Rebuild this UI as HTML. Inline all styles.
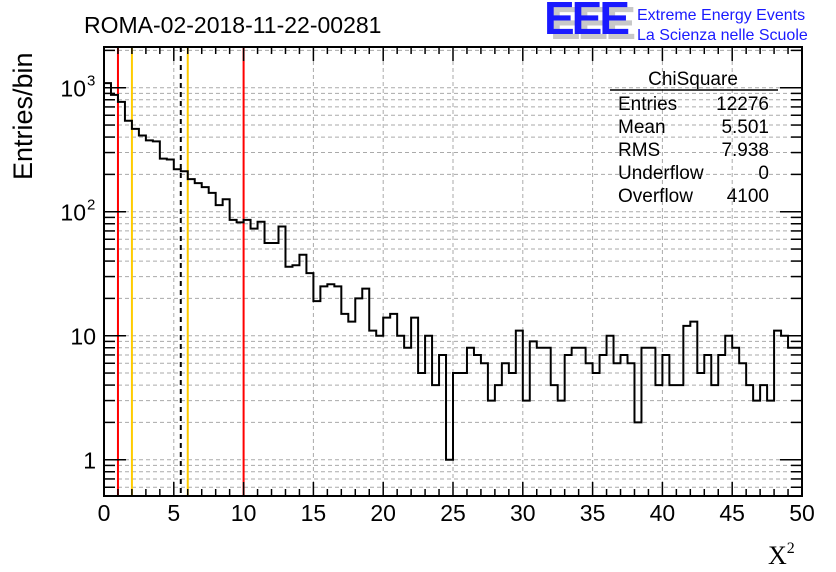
<!DOCTYPE html>
<html><head><meta charset="utf-8"><style>
body{margin:0;background:#fff}
svg{display:block;font-family:"Liberation Sans",sans-serif}
</style></head><body>
<svg id="c" width="836" height="572" viewBox="0 0 836 572">
<rect width="836" height="572" fill="#fff"/>
<text x="84" y="33" font-size="23">ROMA-02-2018-11-22-00281</text>
<g>
<text x="550" y="39" font-size="46" font-weight="bold" fill="#c8c8c8" letter-spacing="-3">EEE</text>
<text x="544" y="34" font-size="46" font-weight="bold" fill="#1a1aff" letter-spacing="-3">EEE</text>
<text x="637" y="20" font-size="16" fill="#1a1aff">Extreme Energy Events</text>
<text x="637" y="40" font-size="16" fill="#1a1aff">La Scienza nelle Scuole</text>
</g>
<g id="grid"></g>
<g id="marks"></g>
<g id="axes"></g>
<g font-size="19">
<text x="693" y="85" text-anchor="middle">ChiSquare</text>
<line x1="610" y1="90" x2="778" y2="90" stroke="#000" stroke-width="1.5"/>
<text x="618" y="110">Entries</text><text x="769" y="110" text-anchor="end">12276</text>
<text x="618" y="133">Mean</text><text x="769" y="133" text-anchor="end">5.501</text>
<text x="618" y="156">RMS</text><text x="769" y="156" text-anchor="end">7.938</text>
<text x="618" y="179">Underflow</text><text x="769" y="179" text-anchor="end">0</text>
<text x="618" y="202">Overflow</text><text x="769" y="202" text-anchor="end">4100</text>
</g>
<text transform="translate(32,180) rotate(-90)" font-size="27">Entries/bin</text>
<text x="768" y="564" font-size="26" font-family="Liberation Serif,serif">X<tspan font-size="16" dy="-11">2</tspan></text>
</svg>
<script>
const counts=[1090,875,769,542,466,412,376,369,268,264,220,212,183,170,158,142,113,126,86,82,86,73,83,56,56,76,36,37,45,32,19,25,26,25,15,13,20,24,11,10,14,15,10,8,14,5,10,4,7,1,5,5,8,7,6,3,4,6,5,11,3,9,8,8,4,3,7,8,8,6,5,7,10,6,7,6,2,8,8,4,7,4,4,12,13,5,7,4,7,10,8,6,4,3,4,3,11,10,8,8];
const binWidth=0.5;
const xTicks=[0,5,10,15,20,25,30,35,40,45,50];
const yTickVals=[1,10,100,1000];
const yTickBase=["1","10","10","10"];
const yTickExp=["","","2","3"];
const redLines=[1,10];
const yellowLines=[2,6];
const meanLine=[5.5];
const X0=104,X1=802,Y0=47,Y1=496;
const xMin=0,xMax=50,yMin=Math.log10(0.51),yMax=Math.log10(2130);
const sx=v=>X0+(v-xMin)/(xMax-xMin)*(X1-X0);
const sy=v=>Y1-(Math.log10(v)-yMin)/(yMax-yMin)*(Y1-Y0);
const NS="http://www.w3.org/2000/svg";
function mk(tag,parent,at){const e=document.createElementNS(NS,tag);for(const k in at)e.setAttribute(k,at[k]);(typeof parent==='string'?document.getElementById(parent):parent).appendChild(e);return e;}
for(const t of xTicks){if(t===0||t===50)continue;
const g=mk('line','grid',{x1:sx(t),x2:sx(t),y1:Y0,y2:Y1,stroke:'#aaa','stroke-dasharray':'4,3','stroke-width':1});

}
const minorY=[];for(let d=0.1;d<=1000;d*=10)for(let m=1;m<10;m++){const v=m*d;if(v>=0.51&&v<=2130)minorY.push(v);}
for(const v of minorY){const g=mk('line','grid',{x1:X0,x2:X1,y1:sy(v),y2:sy(v),stroke:'#aaa','stroke-dasharray':'4,3','stroke-width':1});

}
for(const v of redLines){const l=mk('line','marks',{x1:sx(v),x2:sx(v),y1:Y0,y2:Y1,stroke:'#f00','stroke-width':2});

}
for(const v of yellowLines){const l=mk('line','marks',{x1:sx(v),x2:sx(v),y1:Y0,y2:Y1,stroke:'#fc0','stroke-width':2});

}
for(const v of meanLine){const l=mk('line','marks',{x1:sx(v),x2:sx(v),y1:Y0,y2:Y1,stroke:'#000','stroke-width':2,'stroke-dasharray':'5,4'});

}
let d='';counts.forEach((c,i)=>{const x1=sx(i*binWidth),x2=sx((i+1)*binWidth),y=sy(Math.max(c,0.51));
d+=(i===0?'M'+x1+','+y:'L'+x1+','+y)+'L'+x2+','+y;});
const h=mk('path','marks',{d:d,fill:'none',stroke:'#000','stroke-width':2});


const f=mk('rect','axes',{x:X0,y:Y0,width:X1-X0,height:Y1-Y0,fill:'none',stroke:'#000','stroke-width':2});


for(let v=0;v<=50;v+=1){const major=v%5===0;const len=major?14:7;
mk('line','axes',{x1:sx(v),x2:sx(v),y1:Y1,y2:Y1-len,stroke:'#000','stroke-width':1.5});
mk('line','axes',{x1:sx(v),x2:sx(v),y1:Y0,y2:Y0+len,stroke:'#000','stroke-width':1.5});}
for(const v of minorY){const major=yTickVals.includes(Math.round(v*1000)/1000);const len=major?22:11;
mk('line','axes',{x1:X0,x2:X0+len,y1:sy(v),y2:sy(v),stroke:'#000','stroke-width':1.5});
mk('line','axes',{x1:X1,x2:X1-len,y1:sy(v),y2:sy(v),stroke:'#000','stroke-width':1.5});}
xTicks.forEach(t=>{const tx=mk('text','axes',{x:sx(t),y:521,'font-size':23,'text-anchor':'middle'});tx.textContent=t;

});
yTickVals.forEach((v,i)=>{const hasExp=yTickExp[i]!=='';
const tx=mk('text','axes',{x:hasExp?86:96,y:sy(v)+9,'font-size':23,'text-anchor':'end'});tx.textContent=yTickBase[i];


if(hasExp){const ex=mk('text','axes',{x:87,y:sy(v)-2,'font-size':15,'text-anchor':'start'});ex.textContent=yTickExp[i];

}});
</script>
</body></html>
